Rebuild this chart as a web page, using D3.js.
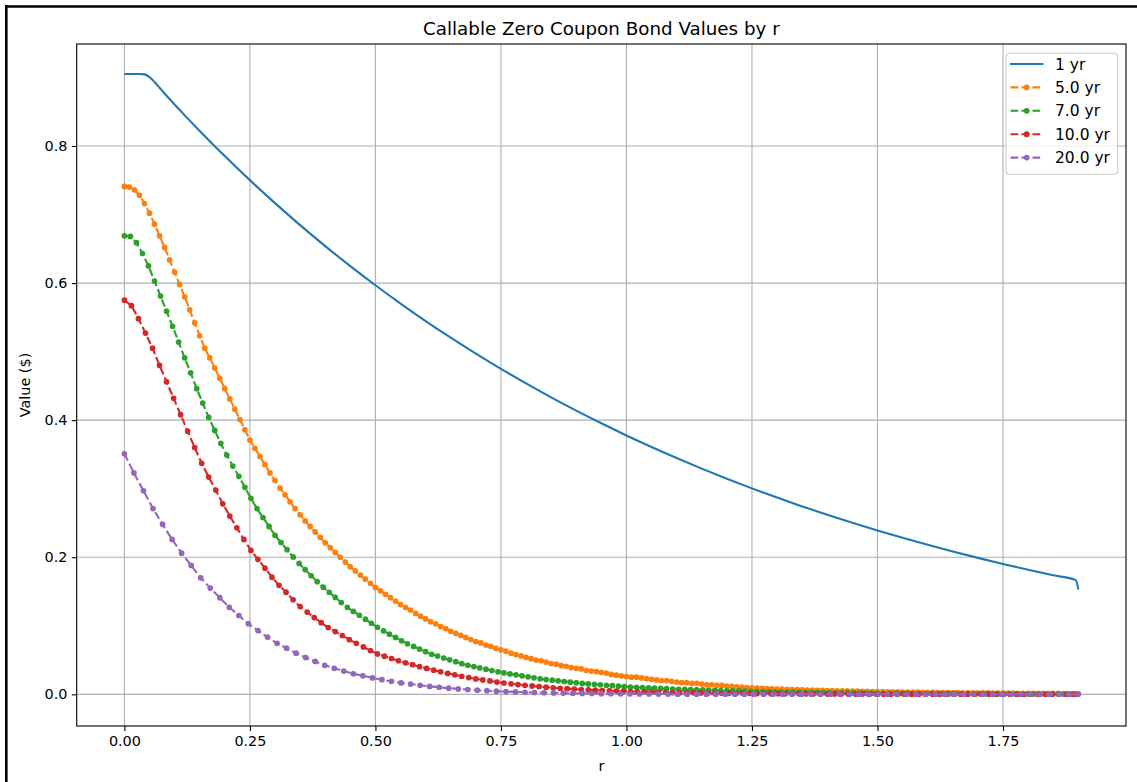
<!DOCTYPE html>
<html><head><meta charset="utf-8">
<script src="https://cdn.jsdelivr.net/npm/d3@7"></script>
<style>body{margin:0;background:#fff;} svg{display:block;font-family:"DejaVu Sans",sans-serif;}</style>
</head><body><svg id="chart" width="1137" height="782"></svg>
<script>
const chartTitle = "Callable Zero Coupon Bond Values by r";
const xLabel = "r";
const yLabel = "Value ($)";
const xTicks = [0, 0.25, 0.5, 0.75, 1.0, 1.25, 1.5, 1.75];
const xTickLabels = ["0.00","0.25","0.50","0.75","1.00","1.25","1.50","1.75"];
const yTicks = [0, 0.2, 0.4, 0.6, 0.8];
const yTickLabels = ["0.0","0.2","0.4","0.6","0.8"];
const seriesNames = ["1 yr","5.0 yr","7.0 yr","10.0 yr","20.0 yr"];
const seriesColors = ["#1f77b4","#ff7f0e","#2ca02c","#d62728","#9467bd"];

// 1 yr (solid line)
const r1yr = [0,0.01,0.02,0.03,0.04,0.05,0.06,0.07,0.08,0.09,0.10,0.125,0.15,0.175,0.20,0.225,0.25,0.30,0.35,0.40,0.45,0.50,0.55,0.60,0.65,0.70,0.75,0.80,0.85,0.90,0.95,1.00,1.05,1.10,1.15,1.20,1.25,1.30,1.35,1.40,1.45,1.50,1.55,1.60,1.65,1.70,1.75,1.80,1.85,1.895,1.90];
const v1yr = [0.905,0.905,0.905,0.905,0.9045,0.9005,0.8935,0.8850,0.8766,0.8685,0.8605,0.8410,0.8220,0.8034,0.7853,0.7675,0.7502,0.7166,0.6846,0.6540,0.6247,0.5968,0.5701,0.5446,0.5203,0.4970,0.4748,0.4536,0.4333,0.4139,0.3954,0.3777,0.3608,0.3447,0.3293,0.3146,0.3005,0.2871,0.2742,0.2620,0.2503,0.2391,0.2284,0.2182,0.2084,0.1991,0.1902,0.1817,0.1736,0.1666,0.153];

// r grid spacing of each lattice
const gridStep = [0.01, 0.012, 0.014, 0.019];

const v5yr = [0.741,0.740,0.736,0.728,0.716,0.702,0.686,0.669,0.652,0.634,
0.616,0.598,0.580,0.561,0.542,0.523,0.505,0.491,0.476,0.461,
0.446,0.431,0.416,0.401,0.386,0.371,0.359,0.347,0.335,0.323,
0.312,0.301,0.291,0.281,0.271,0.262,0.253,0.245,0.237,0.229,
0.221,0.214,0.207,0.200,0.193,0.186,0.180,0.174,0.168,0.162,
0.156,0.151,0.146,0.141,0.136,0.131,0.127,0.123,0.118,0.114,
0.110,0.106,0.103,0.099,0.096,0.092,0.089,0.086,0.083,0.080,
0.077,0.075,0.072,0.070,0.067,0.065,0.063,0.060,0.058,0.056,
0.054,0.052,0.050,0.049,0.047,0.045,0.044,0.042,0.041,0.039,
0.038,0.037,0.035,0.034,0.033,0.032,0.031,0.029,0.028,0.027,
0.026,0.025,0.025,0.024,0.023,0.022,0.021,0.020,0.020,0.019,
0.018,0.017,0.017,0.016,0.016,0.015,0.014,0.014,0.013,0.013,
0.012,0.0115,0.0110,0.0105,0.0100,0.0095,0.0092,0.0088,0.0085,0.0081,
0.0078,0.0075,0.0073,0.0070,0.0068,0.0065,0.0063,0.0061,0.0059,0.0057,
0.0055,0.0053,0.0052,0.0050,0.0049,0.0047,0.0046,0.0044,0.0043,0.0041,
0.0040,0.0039,0.0038,0.0036,0.0035,0.0034,0.0033,0.0032,0.0031,0.0030,
0.0029,0.0028,0.0027,0.0027,0.0026,0.0025,0.0024,0.0023,0.0023,0.0022,
0.0021,0.0020,0.0020,0.0019,0.0019,0.0018,0.0017,0.0017,0.0016,0.0016,
0.0015,0.0015,0.0014,0.0014,0.0013,0.0013,0.0013,0.0012,0.0012,0.0011,
0.0011];

const v7yr = [0.669,0.668,0.659,0.643,0.625,0.603,0.581,0.559,0.537,0.514,
0.491,0.469,0.446,0.425,0.404,0.385,0.366,0.349,0.333,0.318,
0.302,0.286,0.271,0.258,0.245,0.232,0.2215,0.211,0.2005,0.191,
0.182,0.173,0.1644,0.1563,0.1488,0.1414,0.134,0.127,0.121,0.1154,
0.1096,0.1037,0.0979,0.0926,0.0878,0.083,0.0782,0.0737,0.0699,0.066,
0.0622,0.0585,0.0558,0.053,0.0503,0.0476,0.0448,0.0424,0.0405,0.0386,
0.0367,0.0348,0.0329,0.0313,0.0298,0.0284,0.0270,0.0255,0.0241,0.0226,
0.0216,0.0206,0.0197,0.0187,0.0178,0.0168,0.0159,0.0152,0.0146,0.0139,
0.0132,0.0126,0.0119,0.0112,0.0106,0.0102,0.0098,0.0094,0.0090,0.0086,
0.0082,0.0078,0.0074,0.0071,0.0068,0.0066,0.0064,0.0061,0.0059,0.0056,
0.0054,0.0052,0.0049,0.0047,0.0044,0.0042,0.0040,0.0037,0.0035,0.0033,
0.0032,0.0031,0.0030,0.0029,0.0028,0.0026,0.0025,0.0024,0.0023,0.0022,
0.0021,0.0020,0.0018,0.0017,0.0016,0.0015,0.0015,0.0014,0.0014,0.0013,
0.0013,0.0012,0.0012,0.0011,0.0011,0.0010,0.0010,0.0009,0.0009,0.0008,
0.0008,0.0007,0.0007,0.0007,0.0006,0.0006,0.0006,0.0006,0.0005,0.0005,
0.0005,0.0005,0.0004,0.0004,0.0004,0.0004,0.0003,0.0003,0.0003];

const v10yr = [0.575,0.567,0.548,0.527,0.505,0.480,0.456,0.432,0.408,0.384,
0.360,0.337,0.317,0.298,0.278,0.260,0.243,0.226,0.210,0.197,
0.184,0.171,0.159,0.149,0.138,0.128,0.120,0.112,0.1045,0.0975,
0.0916,0.0857,0.0798,0.0744,0.0691,0.0638,0.0590,0.0557,0.0523,0.0490,
0.0460,0.0432,0.0404,0.0378,0.0353,0.0329,0.0305,0.0284,0.0264,0.0245,
0.0225,0.0210,0.0195,0.0179,0.0165,0.0154,0.0143,0.0132,0.0122,0.0113,
0.0104,0.0096,0.0089,0.0083,0.0076,0.0070,0.0065,0.0060,0.0055,0.0052,
0.0048,0.0044,0.0041,0.0038,0.0036,0.0034,0.0031,0.0029,0.0026,0.0024,
0.0023,0.0022,0.0020,0.0019,0.0017,0.0016,0.0015,0.0014,0.0013,0.0012,
0.0011,0.0011,0.0010,0.0009,0.0008,0.0008,0.0007,0.0007,0.0006,0.0006,
0.0005,0.0005,0.0004,0.0004,0.0004,0.0004,0.0003,0.0003,0.0003,0.0003,
0.0003,0.0003,0.0003,0.0002,0.0002,0.0002,0.0002,0.0002,0.0002,0.0002,
0.0002,0.0002,0.0002,0.0002,0.0002,0.0002,0.0002,0.0002,0.0001,0.0001,
0.0001,0.0001,0.0001,0.0001,0.0001,0.0001];

const v20yr = [0.351,0.323,0.297,0.271,0.248,0.226,0.206,0.188,0.170,0.155,
0.141,0.127,0.115,0.103,0.093,0.0835,0.0745,0.0673,0.0600,0.0537,
0.0480,0.0423,0.0380,0.0339,0.0300,0.0270,0.0240,0.0214,0.0190,0.0167,
0.0150,0.0132,0.0116,0.0103,0.0090,0.0079,0.0069,0.0060,0.0053,0.0046,
0.0040,0.0035,0.0030,0.0027,0.0023,0.0020,0.0018,0.0015,0.0013,0.0012,
0.0010,0.0009,0.0008,0.0007,0.0006,0.0005,0.0004,0.0004,0.0003,0.0003,
0.0003,0.0002,0.0002,0.0002,0.0002,0.0001,0.0001,0.0001,0.0001,0.0001,
0.0001,0.0001,0.0001,0.0001,0.0001,0.0001,0,0,0,0,
0,0,0,0,0,0,0,0,0,0,
0,0,0,0,0,0,0,0,0,0,
0];

const dottedValues = [v5yr, v7yr, v10yr, v20yr];

// ---------- drawing ----------
const svg = d3.select("#chart");
const plot = {left: 76.7, right: 1126, top: 44, bottom: 726};
const x = d3.scaleLinear().domain([-0.095, 1.995]).range([plot.left, plot.right]);
const y = d3.scaleLinear().domain([-0.0462, 0.9488]).range([plot.bottom, plot.top]);

svg.append("rect").attr("width",1137).attr("height",782).attr("fill","#fff");

// outer frame (top & left)
svg.append("line").attr("x1",5).attr("x2",1137).attr("y1",6.5).attr("y2",6.5).attr("stroke","#000").attr("stroke-width",2.6);
svg.append("line").attr("x1",6.3).attr("x2",6.3).attr("y1",5).attr("y2",782).attr("stroke","#000").attr("stroke-width",2.6);

svg.append("defs").append("clipPath").attr("id","clip")
  .append("rect").attr("x",plot.left).attr("y",plot.top)
  .attr("width",plot.right-plot.left).attr("height",plot.bottom-plot.top);

// grid
const grid = svg.append("g");
xTicks.forEach(t => grid.append("line").attr("x1",x(t)).attr("x2",x(t))
  .attr("y1",plot.top).attr("y2",plot.bottom).attr("stroke","#b0b0b0").attr("stroke-width",1.1));
yTicks.forEach(t => grid.append("line").attr("y1",y(t)).attr("y2",y(t))
  .attr("x1",plot.left).attr("x2",plot.right).attr("stroke","#b0b0b0").attr("stroke-width",1.1));

// axes
const xAxis = d3.axisBottom(x).tickValues(xTicks).tickFormat((d,i)=>xTickLabels[i]).tickSize(4.9).tickPadding(4.4);
const yAxis = d3.axisLeft(y).tickValues(yTicks).tickFormat((d,i)=>yTickLabels[i]).tickSize(4.9).tickPadding(4.4);
const gx = svg.append("g").attr("transform",`translate(0,${plot.bottom})`).call(xAxis);
const gy = svg.append("g").attr("transform",`translate(${plot.left},0)`).call(yAxis);
[gx, gy].forEach(g => {
  g.select(".domain").remove();
  g.selectAll(".tick line").attr("stroke","#000").attr("stroke-width",1.1);
  g.selectAll(".tick text").attr("fill","#000").style("font-size","14.4px").style("font-family","DejaVu Sans");
});

// data layer
const dataLayer = svg.append("g").attr("clip-path","url(#clip)");

const lineSolid = d3.line().x((d,i)=>x(r1yr[i])).y(d=>y(d)).curve(d3.curveMonotoneX);
dataLayer.append("path").datum(v1yr).attr("d",lineSolid)
  .attr("fill","none").attr("stroke",seriesColors[0]).attr("stroke-width",2.1);

dottedValues.forEach((vals, k) => {
  const step = gridStep[k];
  const pts = vals.map((v,i) => [i*step, v]);
  const color = seriesColors[k+1];
  const ln = d3.line().x(d=>x(d[0])).y(d=>y(d[1]));
  dataLayer.append("path").datum(pts).attr("d",ln)
    .attr("fill","none").attr("stroke",color).attr("stroke-width",2.1)
    .attr("stroke-dasharray","7.7,3.3");
  dataLayer.append("g").selectAll("circle").data(pts).join("circle")
    .attr("cx",d=>x(d[0])).attr("cy",d=>y(d[1])).attr("r",2.2)
    .attr("fill",color).attr("stroke",color).attr("stroke-width",1.3);
});

// spines
svg.append("rect").attr("x",plot.left).attr("y",plot.top)
  .attr("width",plot.right-plot.left).attr("height",plot.bottom-plot.top)
  .attr("fill","none").attr("stroke","#000").attr("stroke-width",1.1);

// title & labels
svg.append("text").attr("x",(plot.left+plot.right)/2).attr("y",35).attr("text-anchor","middle")
  .style("font-size","18.3px").attr("fill","#000").text(chartTitle);
svg.append("text").attr("x",(plot.left+plot.right)/2).attr("y",771).attr("text-anchor","middle")
  .style("font-size","14.4px").attr("fill","#000").text(xLabel);
svg.append("text").attr("transform",`translate(30,${(plot.top+plot.bottom)/2}) rotate(-90)`)
  .attr("text-anchor","middle").style("font-size","14.4px").attr("fill","#000").text(yLabel);

// legend
const lg = svg.append("g");
lg.append("rect").attr("x",1006).attr("y",53.3).attr("width",111.7).attr("height",121)
  .attr("rx",3).attr("fill","#fff").attr("fill-opacity",0.8).attr("stroke","#cccccc").attr("stroke-width",1.1);
seriesNames.forEach((name,i) => {
  const yy = 64 + i*23.4;
  const g = lg.append("g");
  const l = g.append("line").attr("x1",1010).attr("x2",1043.3).attr("y1",yy).attr("y2",yy)
    .attr("stroke",seriesColors[i]).attr("stroke-width",2.1);
  if (i > 0) {
    l.attr("stroke-dasharray","7.7,3.3").attr("stroke-dashoffset",-0.5);
    g.append("circle").attr("cx",1026.7).attr("cy",yy).attr("r",2.2)
      .attr("fill",seriesColors[i]).attr("stroke",seriesColors[i]).attr("stroke-width",1.3);
  }
  g.append("text").attr("x",1055).attr("y",yy+5.5).style("font-size","15.5px").attr("fill","#000").text(name);
});
</script>
</body></html>
